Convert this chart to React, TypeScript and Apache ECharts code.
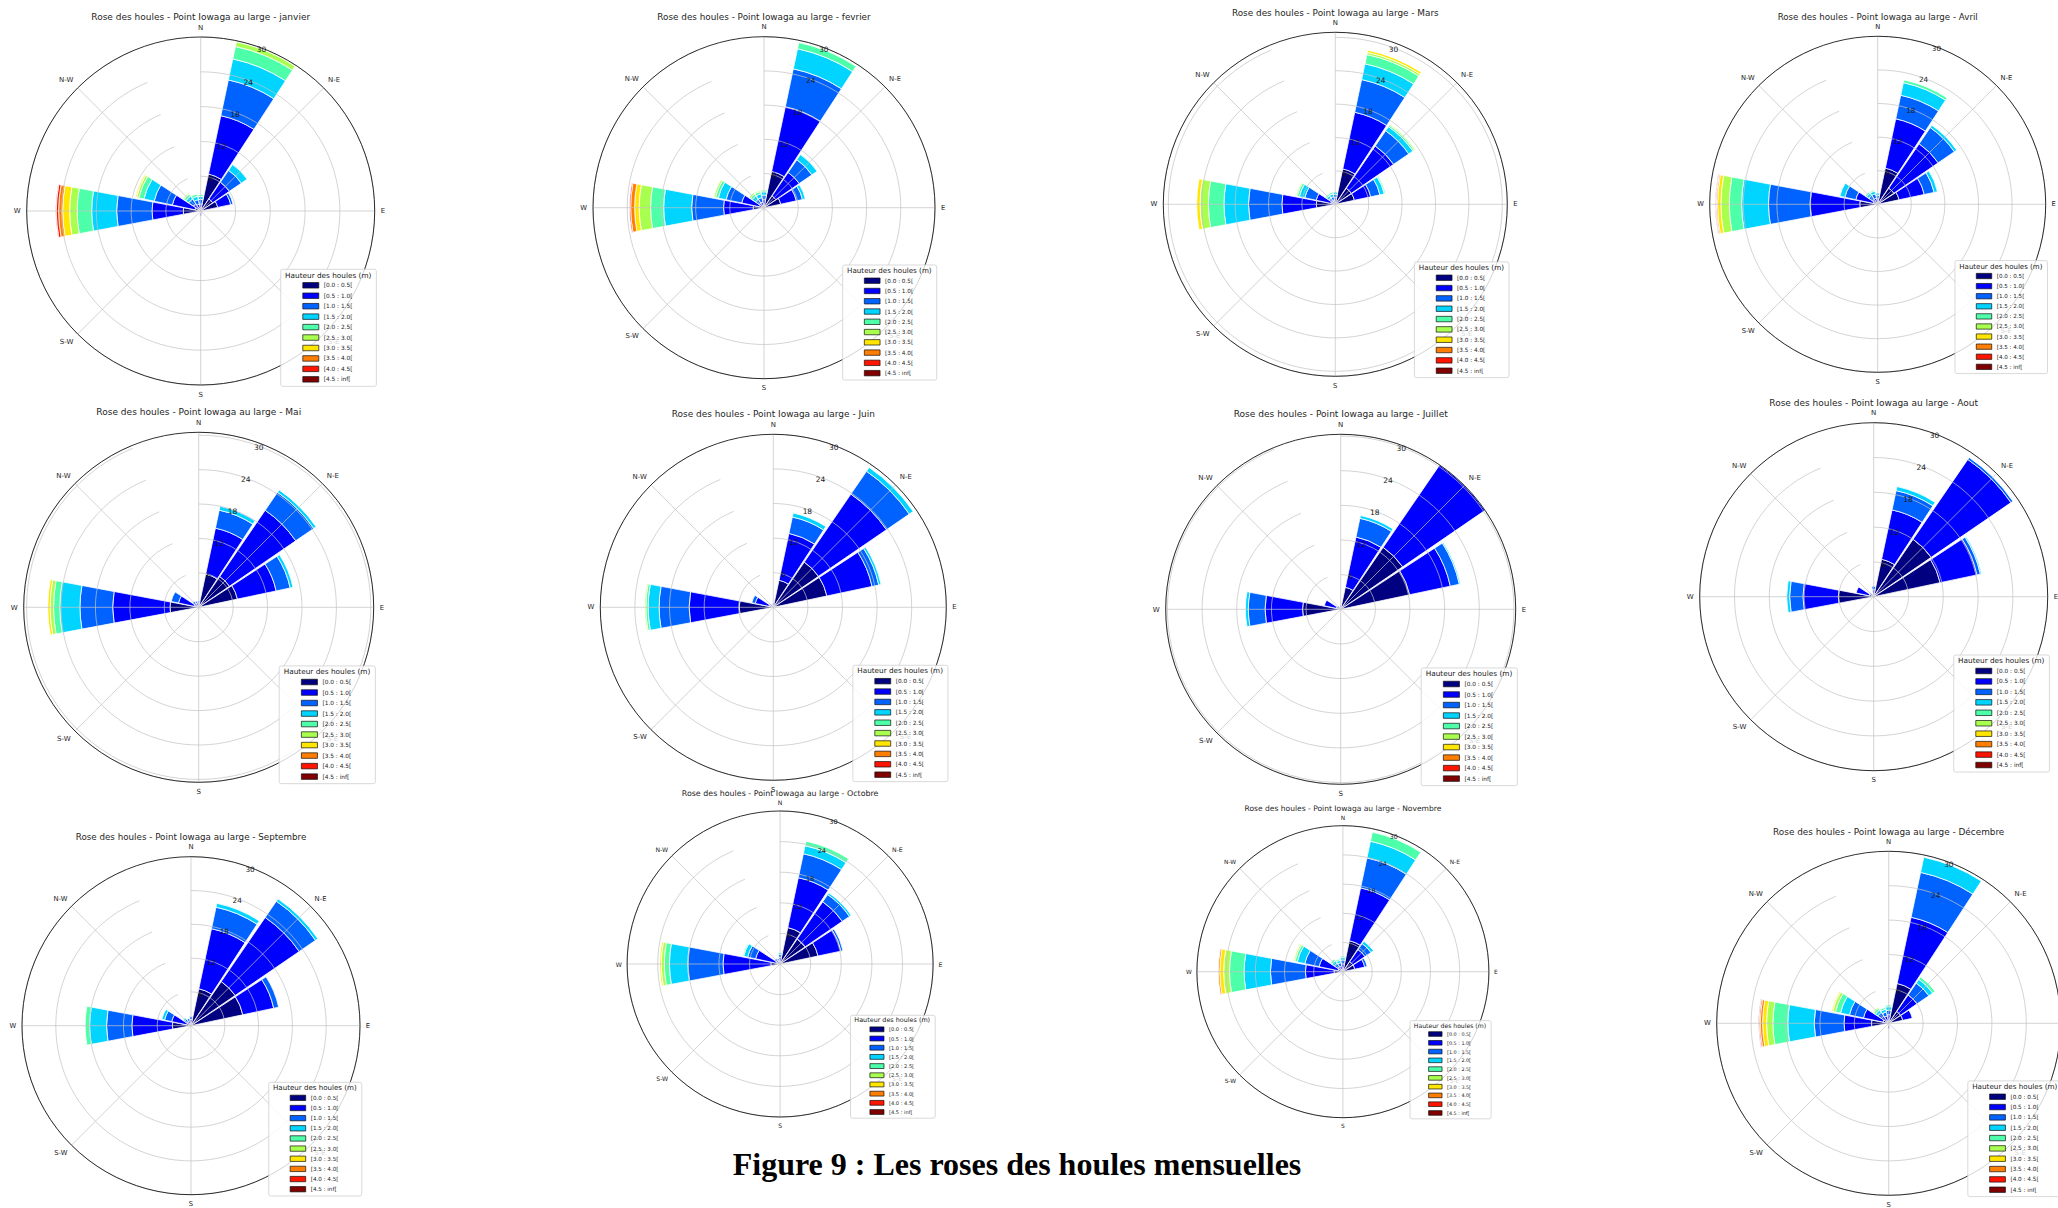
import React, { useEffect, useRef } from "react";
import * as echarts from "echarts";

// ---------- categories / labels ----------
const DIRECTIONS = ["N", "NNE", "NE", "ENE", "E", "ESE", "SE", "SSE", "S", "SSW", "SW", "WSW", "W", "WNW", "NW", "NNW"];
const AXIS_NAMES: Record<string, string> = { N: "N", NE: "N-E", E: "E", SE: "S-E", S: "S", SW: "S-W", W: "W", NW: "N-W" };
const BINS = ["[0.0 : 0.5[", "[0.5 : 1.0[", "[1.0 : 1.5[", "[1.5 : 2.0[", "[2.0 : 2.5[", "[2.5 : 3.0[", "[3.0 : 3.5[", "[3.5 : 4.0[", "[4.0 : 4.5[", "[4.5 : inf["];
const RING_TICKS = [6, 12, 18, 24, 30];
const MONTHS = ["janvier", "fevrier", "Mars", "Avril", "Mai", "Juin", "Juillet", "Aout", "Septembre", "Octobre", "Novembre", "Décembre"];
const RADIUS_MAX = [30, 30, 30.9, 30, 30.5, 30, 30.3, 30, 30, 30, 30, 30];

// ---------- frequencies (%) per direction, one value per height bin ----------
type Row = [string, ...number[]];
const JANVIER: Row[] = [
  ["N", 0.5, 0.7, 0.8, 0.5, 0.3],
  ["NNE", 6.5, 10.3, 6.3, 3.7, 2.2, 0.8],
  ["NE", 2.5, 3.5, 2.5, 1.2],
  ["ENE", 3.0, 2.3, 0.4],
  ["E", 0.4],
  ["SSE", 0.2, 0.3],
  ["S", 0.3, 0.5],
  ["W", 3.0, 5.4, 6.1, 4.3, 2.5, 1.3, 1.2, 0.7, 0.4, 0.1],
  ["WNW", 1.0, 4.0, 3.2, 1.8, 0.9, 0.4, 0.2],
  ["NW", 0.5, 1.0, 1.0, 0.6, 0.4, 0.2],
  ["NNW", 0.5, 0.7, 0.8, 0.6, 0.4],
];
const FEVRIER: Row[] = [
  ["N", 0.6, 0.8, 0.8, 0.6, 0.3],
  ["NNE", 6.5, 11.6, 6.8, 3.6, 1.1],
  ["NE", 2.5, 5.0, 2.7, 1.1],
  ["ENE", 3.0, 2.8, 1.1, 0.5],
  ["S", 0.2, 0.3],
  ["W", 1.9, 5.2, 5.6, 4.9, 2.3, 2.0, 0.8, 0.7, 0.2],
  ["WNW", 0.8, 3.2, 2.8, 1.4, 0.5, 0.3],
  ["NW", 0.4, 0.6, 0.8, 0.7, 0.4, 0.3],
  ["NNW", 0.4, 0.6, 0.8, 0.7, 0.4, 0.2],
];
const MARS: Row[] = [
  ["N", 0.5, 0.7, 0.6, 0.4],
  ["NNE", 6.5, 10.4, 6.0, 2.9, 1.7, 0.4, 0.4],
  ["NE", 3.5, 9.2, 3.3, 0.9, 0.3, 0.2],
  ["ENE", 3.5, 3.0, 1.7, 0.8, 0.2],
  ["W", 3.4, 6.2, 6.0, 4.4, 2.8, 1.5, 0.6],
  ["WNW", 0.8, 2.7, 2.1, 1.0, 0.4, 0.2],
  ["NW", 0.3, 0.5, 0.6, 0.5, 0.3],
  ["NNW", 0.3, 0.5, 0.6, 0.5, 0.3],
];
const AVRIL: Row[] = [
  ["N", 0.4, 0.6, 0.6, 0.4],
  ["NNE", 6.6, 9.0, 4.3, 2.3, 0.5],
  ["NE", 3.5, 9.6, 3.5, 0.5],
  ["ENE", 3.9, 4.6, 1.8, 0.6],
  ["W", 3.2, 8.9, 7.4, 4.8, 2.2, 1.5, 0.6, 0.2, 0.1, 0.1],
  ["WNW", 0.8, 3.2, 2.0, 0.9],
  ["NW", 0.4, 0.7, 0.8, 0.5, 0.3],
  ["NNW", 0.4, 0.7, 0.8, 0.5, 0.2],
];
const MAI: Row[] = [
  ["N", 0.3, 0.5, 0.3],
  ["NNE", 5.9, 8.2, 3.2, 0.7],
  ["NE", 6.5, 14.0, 3.8, 0.5],
  ["ENE", 6.9, 6.9, 2.5, 0.5],
  ["E", 0.4],
  ["W", 5.0, 10.0, 5.7, 3.5, 1.1, 0.6, 0.4],
  ["WNW", 0.8, 2.8, 1.3],
  ["NW", 0.3, 0.6, 0.4],
  ["NNW", 0.3, 0.5, 0.3],
];
const JUIN: Row[] = [
  ["N", 0.3, 0.4],
  ["NNE", 4.8, 8.3, 2.9, 0.7],
  ["NE", 9.5, 14.3, 4.8, 0.8],
  ["ENE", 9.5, 8.0, 1.2, 0.4],
  ["E", 0.5],
  ["W", 5.9, 8.7, 5.2, 1.9, 0.4, 0.2],
  ["WNW", 0.8, 2.4, 0.6],
  ["NW", 0.3, 0.4],
];
const JUILLET: Row[] = [
  ["N", 0.3, 0.4],
  ["NNE", 3.9, 8.9, 3.3, 0.5],
  ["NE", 13.0, 17.3],
  ["ENE", 12.2, 7.2, 1.6, 0.2],
  ["W", 6.6, 6.5, 2.9, 0.5],
  ["WNW", 0.8, 2.1],
  ["NW", 0.3, 0.4],
];
const AOUT: Row[] = [
  ["N", 0.4, 0.8, 0.6],
  ["NNE", 6.6, 8.7, 3.4, 0.7],
  ["NE", 12.0, 16.7, 0.4],
  ["ENE", 11.7, 6.5, 0.6, 0.2],
  ["W", 6.1, 6.1, 2.3, 0.5],
  ["WNW", 0.8, 2.3],
  ["NW", 0.3, 0.5],
];
const SEPTEMBRE: Row[] = [
  ["N", 0.4, 0.7, 0.5],
  ["NNE", 6.7, 10.9, 3.9, 0.7],
  ["NE", 9.5, 13.8, 3.5, 0.5],
  ["ENE", 9.4, 5.6, 0.9],
  ["W", 3.3, 7.2, 4.5, 3.0, 0.8],
  ["WNW", 0.8, 2.7, 1.3, 0.5],
  ["NW", 0.3, 0.6, 0.5, 0.3],
  ["NNW", 0.3, 0.6, 0.4],
];
const OCTOBRE: Row[] = [
  ["N", 0.5, 0.8, 0.6, 0.3],
  ["NNE", 7.3, 10.0, 4.8, 1.6, 0.9],
  ["NE", 5.9, 8.9, 1.7, 0.4],
  ["ENE", 7.6, 4.6, 0.4],
  ["W", 1.8, 9.4, 6.9, 3.6, 1.0, 0.6, 0.3],
  ["WNW", 0.8, 4.1, 1.6, 0.8, 0.2],
  ["NW", 0.3, 0.6, 0.4],
  ["NNW", 0.3, 0.5, 0.3],
];
const NOVEMBRE: Row[] = [
  ["N", 0.6, 1.0, 0.8, 0.5, 0.3],
  ["NNE", 6.5, 11.1, 6.3, 3.5, 1.9],
  ["NE", 2.5, 3.0, 1.5, 0.6],
  ["ENE", 2.5, 2.1, 0.5],
  ["S", 0.3, 0.5],
  ["W", 1.8, 5.9, 7.2, 5.4, 3.0, 1.2, 0.8, 0.3],
  ["WNW", 1.0, 4.0, 3.0, 1.6, 0.5, 0.3, 0.1],
  ["NW", 0.5, 0.8, 0.8, 0.6, 0.4],
  ["NNW", 0.4, 0.8, 0.7, 0.5, 0.3],
];
const DECEMBRE: Row[] = [
  ["N", 0.5, 1.0, 0.8, 0.6, 0.3],
  ["NNE", 7.1, 11.8, 8.0, 2.7],
  ["NE", 2.5, 3.5, 2.5, 0.8, 0.5],
  ["ENE", 2.5, 1.7],
  ["S", 0.3, 0.6],
  ["W", 3.0, 4.8, 5.2, 4.6, 2.6, 1.1, 0.7, 0.4, 0.2, 0.1],
  ["WNW", 1.0, 3.5, 2.5, 1.6, 0.9, 0.5, 0.2],
  ["NW", 0.5, 1.0, 0.8, 0.5, 0.4, 0.2],
  ["NNW", 0.5, 0.8, 0.7, 0.5, 0.3],
];
const MONTH_DATA = [JANVIER, FEVRIER, MARS, AVRIL, MAI, JUIN, JUILLET, AOUT, SEPTEMBRE, OCTOBRE, NOVEMBRE, DECEMBRE];

// ---------- styles / layout ----------
const COLORS = ["#000080", "#0000ff", "#0063ff", "#00d4ff", "#4effa9", "#a9ff4e", "#ffe600", "#ff7d00", "#ff1400", "#800000"];
const PANELS = [
  { cx: 200.7, cy: 211, r: 174 },
  { cx: 764, cy: 207.7, r: 171 },
  { cx: 1335.3, cy: 204.3, r: 172 },
  { cx: 1877.7, cy: 204.3, r: 168 },
  { cx: 198.7, cy: 607.3, r: 175 },
  { cx: 773.3, cy: 607.3, r: 173 },
  { cx: 1340.7, cy: 609.3, r: 175 },
  { cx: 1873.7, cy: 596.7, r: 174 },
  { cx: 191, cy: 1025.7, r: 169 },
  { cx: 780.1, cy: 964, r: 153 },
  { cx: 1342.9, cy: 971.7, r: 146 },
  { cx: 1888.7, cy: 1023.3, r: 172 },
];
const FONT = "DejaVu Sans";
const GRID_COLOR = "rgba(195,195,195,0.9)";

function buildOption() {
  const polar: any[] = [];
  const angleAxis: any[] = [];
  const radiusAxis: any[] = [];
  const series: any[] = [];
  const legend: any[] = [];
  const graphic: any[] = [];

  PANELS.forEach((p, m) => {
    const s = p.r / 174;
    const pa = 2 * m;
    const pb = 2 * m + 1;
    polar.push({ center: [p.cx, p.cy], radius: p.r });
    polar.push({ center: [p.cx, p.cy], radius: p.r });

    angleAxis.push({
      polarIndex: pa,
      type: "category",
      data: DIRECTIONS,
      boundaryGap: false,
      startAngle: 90,
      clockwise: true,
      z: 3,
      axisLine: { show: false },
      axisTick: { show: false },
      splitLine: { show: true, interval: (i: number) => i % 2 === 0, lineStyle: { color: GRID_COLOR, width: 0.8 } },
      axisLabel: {
        interval: (i: number) => i % 2 === 0,
        formatter: (v: string) => AXIS_NAMES[v] ?? "",
        fontSize: 7 * s,
        fontFamily: FONT,
        color: "#262626",
        margin: 6 * s,
      },
    });
    radiusAxis.push({
      polarIndex: pa,
      type: "value",
      min: 0,
      max: RADIUS_MAX[m],
      interval: 6,
      z: 3,
      axisLine: { show: false },
      axisTick: { show: false },
      axisLabel: { show: false },
      splitLine: { show: true, lineStyle: { color: GRID_COLOR, width: 0.8 } },
    });

    // second polar: the full outer circle and the ring labels along the 22.5° ray
    angleAxis.push({
      polarIndex: pb,
      type: "value",
      min: 0,
      max: 360,
      startAngle: 67.5,
      z: 4,
      axisLine: { show: true, lineStyle: { color: "#1a1a1a", width: 0.9 } },
      axisTick: { show: false },
      axisLabel: { show: false },
      splitLine: { show: false },
    });
    radiusAxis.push({
      polarIndex: pb,
      type: "value",
      min: 0,
      max: RADIUS_MAX[m],
      interval: 6,
      z: 4,
      axisLine: { show: false },
      axisTick: { show: false },
      splitLine: { show: false },
      axisLabel: {
        show: true,
        formatter: (v: number) => (RING_TICKS.indexOf(v) >= 0 ? String(v) : ""),
        fontSize: 7.5 * s,
        fontFamily: FONT,
        color: "#1a1a1a",
        margin: 1,
      },
    });

    const rows = MONTH_DATA[m];
    BINS.forEach((name, b) => {
      const values = DIRECTIONS.map((d) => {
        const row = rows.find((r) => r[0] === d);
        const v = row ? (row[b + 1] as number | undefined) : undefined;
        return v == null || v === 0 ? "-" : v;
      });
      series.push({
        type: "bar",
        coordinateSystem: "polar",
        polarIndex: pa,
        stack: "rose" + m,
        name,
        data: values,
        barCategoryGap: "6%",
        silent: true,
        itemStyle: { color: COLORS[b], borderColor: "#ffffff", borderWidth: 0.8 },
      });
    });

    legend.push({
      data: BINS,
      orient: "vertical",
      left: p.cx + 0.46 * p.r,
      top: p.cy + 0.335 * p.r,
      itemWidth: 16 * s,
      itemHeight: 5.5 * s,
      itemGap: 2.45 * s,
      icon: "rect",
      selectedMode: false,
      padding: [12 * s, 24 * s, 3 * s, 21.7 * s],
      borderColor: "#cfcfcf",
      borderWidth: 0.8,
      borderRadius: 2,
      backgroundColor: "rgba(255,255,255,0.8)",
      itemStyle: { borderColor: "#111", borderWidth: 0.7 },
      textStyle: { fontSize: 5.8 * s, lineHeight: 8 * s, color: "#222", fontFamily: FONT },
      z: 10,
    });

    graphic.push({
      type: "text",
      z: 20,
      x: p.cx + 0.733 * p.r,
      y: p.cy + 0.368 * p.r,
      style: {
        text: "Hauteur des houles (m)",
        fontSize: 7.3 * s,
        fontFamily: FONT,
        fill: "#222",
        align: "center",
        verticalAlign: "middle",
      },
    });
    graphic.push({
      type: "text",
      z: 20,
      x: p.cx,
      y: p.cy - 1.115 * p.r,
      style: {
        text: "Rose des houles - Point Iowaga au large - " + MONTHS[m],
        fontSize: 9 * s,
        fontFamily: FONT,
        fill: "#262626",
        align: "center",
        verticalAlign: "middle",
      },
    });
  });

  graphic.push({
    type: "text",
    z: 20,
    x: 1017,
    y: 1164,
    style: {
      text: "Figure 9 : Les roses des houles mensuelles",
      fontSize: 32,
      fontWeight: "bold",
      fontFamily: "Liberation Serif",
      fill: "#000",
      align: "center",
      verticalAlign: "middle",
    },
  });

  return {
    animation: false,
    backgroundColor: "#ffffff",
    polar,
    angleAxis,
    radiusAxis,
    legend,
    series,
    graphic,
  };
}

export default function App() {
  const ref = useRef<HTMLDivElement>(null);
  useEffect(() => {
    if (!ref.current) return;
    const chart = echarts.init(ref.current, null, { renderer: "svg" });
    chart.setOption(buildOption() as any);
    return () => chart.dispose();
  }, []);
  return (
    <div
      ref={ref}
      style={{ position: "fixed", left: 0, top: 0, width: 2058, height: 1208, background: "#ffffff" }}
    />
  );
}
